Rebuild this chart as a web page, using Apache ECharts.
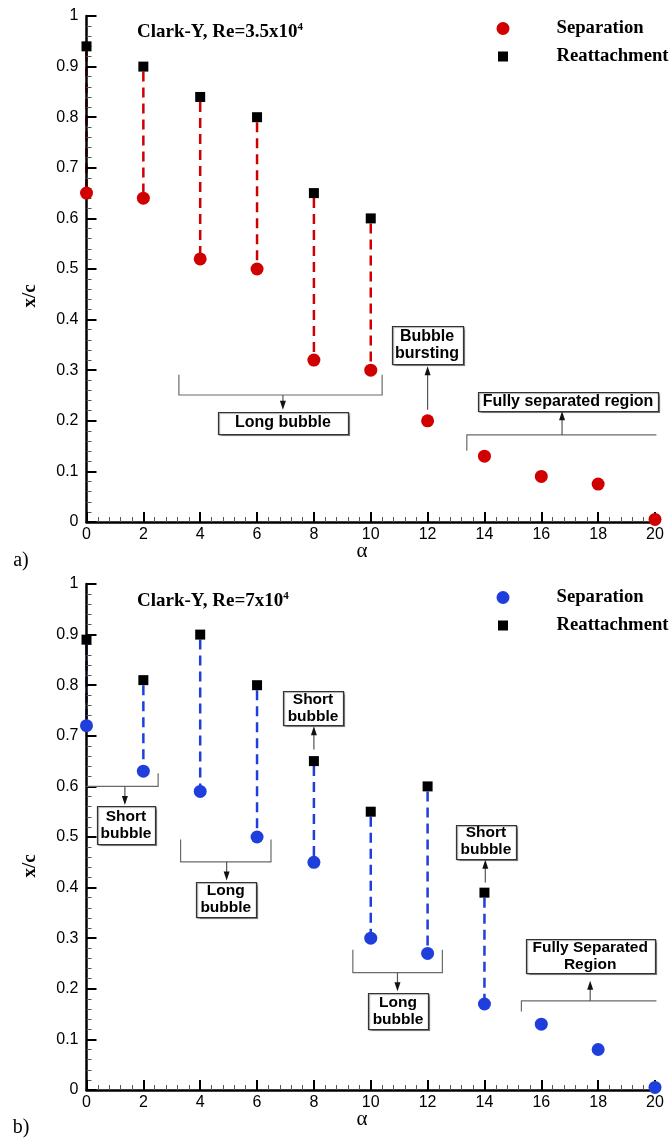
<!DOCTYPE html>
<html>
<head>
<meta charset="utf-8">
<script src="https://cdn.jsdelivr.net/npm/echarts/dist/echarts.min.js"></script>
<style>
  html, body { margin: 0; padding: 0; background: #fff; }
  #chart { width: 671px; height: 1140px; }
</style>
</head>
<body>
<div id="chart"></div>
<script>
// Angle of attack (deg) and chordwise positions x/c of separation and reattachment
const alpha = [0, 2, 4, 6, 8, 10, 12, 14, 16, 18, 20];

// Re = 3.5x10^4
const sepA  = [0.65, 0.64, 0.52, 0.50, 0.32, 0.30, 0.20, 0.13, 0.09, 0.075, 0.005];
const reatA = [0.94, 0.90, 0.84, 0.80, 0.65, 0.60];          // alpha 0..10

// Re = 7x10^4
const sepB  = [0.72, 0.63, 0.59, 0.50, 0.45, 0.30, 0.27, 0.17, 0.13, 0.08, 0.005];
const reatB = [0.89, 0.81, 0.90, 0.80, 0.65, 0.55, 0.60, 0.39]; // alpha 0..14

const xTicks = ['0', '2', '4', '6', '8', '10', '12', '14', '16', '18', '20'];
const yTicks = ['0', '0.1', '0.2', '0.3', '0.4', '0.5', '0.6', '0.7', '0.8', '0.9', '1'];

const RED = '#d00000';
const BLUE = '#1f3fdc';
const SERIF = '"Liberation Serif", "Times New Roman", serif';
const SANS = '"Liberation Sans", Arial, sans-serif';

const chart = echarts.init(document.getElementById('chart'), null, { renderer: 'canvas' });

function pts(xs, ys) { return ys.map((y, i) => [xs[i], y]); }
function spans(xs, lo, hi) { return hi.map((h, i) => [xs[i], lo[i], h]); }

function makeXAxis(gi) {
  return {
    type: 'value', gridIndex: gi, min: 0, max: 20, interval: 2, z: 3,
    axisLine: { show: true, onZero: false, lineStyle: { color: '#000', width: 2.5 } },
    axisTick: { show: true, inside: true, length: 10, lineStyle: { color: '#000', width: 2 } },
    minorTick: { show: true, splitNumber: 5, length: 5, lineStyle: { color: '#555', width: 1 } },
    splitLine: { show: false },
    axisLabel: {
      margin: 5, color: '#000', fontFamily: SANS, fontSize: 16,
      showMinLabel: true, showMaxLabel: true, hideOverlap: false,
      formatter: v => xTicks[Math.round(v / 2)]
    }
  };
}
function makeYAxis(gi) {
  return {
    type: 'value', gridIndex: gi, min: 0, max: 1, interval: 0.1, z: 3,
    axisLine: { show: true, onZero: false, lineStyle: { color: '#000', width: 2.5 } },
    axisTick: { show: true, inside: true, length: 10, lineStyle: { color: '#000', width: 2 } },
    minorTick: { show: true, splitNumber: 5, length: 5, lineStyle: { color: '#555', width: 1 } },
    splitLine: { show: false },
    axisLabel: {
      margin: 8, color: '#000', fontFamily: SANS, fontSize: 16,
      showMinLabel: true, showMaxLabel: true, hideOverlap: false,
      formatter: v => yTicks[Math.round(v * 10)]
    }
  };
}

function connector(gi, xs, lo, hi, color) {
  return {
    type: 'custom', xAxisIndex: gi, yAxisIndex: gi, z: 2, silent: true,
    data: spans(xs, lo, hi),
    encode: { x: 0, y: [1, 2] },
    renderItem: function (params, api) {
      const a = api.coord([api.value(0), api.value(2)]);
      const b = api.coord([api.value(0), api.value(1)]);
      return {
        type: 'line',
        shape: { x1: a[0], y1: a[1] + 5, x2: b[0], y2: b[1] },
        style: { stroke: color, lineWidth: 2.5, lineDash: [10, 6] }
      };
    }
  };
}
function sepSeries(gi, ys, color) {
  return {
    name: 'Separation', type: 'scatter', xAxisIndex: gi, yAxisIndex: gi, z: 4, clip: false,
    symbol: 'circle', symbolSize: 13, itemStyle: { color: color, opacity: 1 },
    data: pts(alpha, ys)
  };
}
function reatSeries(gi, ys) {
  return {
    name: 'Reattachment', type: 'scatter', xAxisIndex: gi, yAxisIndex: gi, z: 4, clip: false,
    symbol: 'rect', symbolSize: 10, itemStyle: { color: '#000', opacity: 1 },
    data: pts(alpha, ys)
  };
}
function makeLegend(top, color) {
  return {
    orient: 'vertical', left: 490, top: top, itemWidth: 13, itemHeight: 13, itemGap: 9,
    selectedMode: false,
    textStyle: { fontFamily: SERIF, fontWeight: 'bold', fontSize: 18.7, color: '#000', lineHeight: 18, padding: [0, 0, 0, 42] },
    data: [
      { name: 'Separation', icon: 'circle', itemStyle: { color: color } },
      { name: 'Reattachment', icon: 'rect', itemStyle: { color: '#000', borderColor: '#fff', borderWidth: 3 } }
    ]
  };
}
function makeTitle(top, base) {
  return {
    left: 132, top: top,
    text: '{t|' + base + '}{s|4}',
    textStyle: {
      rich: {
        t: { fontFamily: SERIF, fontWeight: 'bold', fontSize: 19, color: '#000', lineHeight: 21 },
        s: { fontFamily: SERIF, fontWeight: 'bold', fontSize: 11, color: '#000', lineHeight: 21, verticalAlign: 'top' }
      }
    }
  };
}

chart.setOption({
  animation: false,
  backgroundColor: '#fff',
  title: [makeTitle(16.5, 'Clark-Y, Re=3.5x10'), makeTitle(586, 'Clark-Y, Re=7x10')],
  legend: [makeLegend(14, RED), makeLegend(583, BLUE)],
  grid: [
    { left: 86.5, top: 16, width: 568.5, height: 506, containLabel: false, outerBoundsMode: 'none' },
    { left: 86.5, top: 584, width: 568.5, height: 506, containLabel: false, outerBoundsMode: 'none' }
  ],
  xAxis: [makeXAxis(0), makeXAxis(1)],
  yAxis: [makeYAxis(0), makeYAxis(1)],
  series: [
    connector(0, alpha, sepA.slice(0, reatA.length), reatA, RED),
    sepSeries(0, sepA, RED),
    reatSeries(0, reatA),
    connector(1, alpha, sepB.slice(0, reatB.length), reatB, BLUE),
    sepSeries(1, sepB, BLUE),
    reatSeries(1, reatB)
  ]
});

// Region annotations, positioned in (alpha, x/c) units of each panel
const notes = [
  {
    grid: 0, font: 16,
    brackets: [
      [[3.25, 0.291], [3.25, 0.251], [10.40, 0.251], [10.40, 0.291]],
      [[13.38, 0.141], [13.38, 0.172], [20.05, 0.172]]
    ],
    arrows: [
      [[6.91, 0.251], [6.91, 0.222]],
      [[12.0, 0.222], [12.0, 0.308]],
      [[16.73, 0.172], [16.73, 0.219]]
    ],
    boxes: [
      { at: [6.91, 0.196], w: 130, h: 22, text: 'Long bubble' },
      { at: [11.98, 0.350], w: 71, h: 38, text: 'Bubble\nbursting' },
      { at: [16.94, 0.238], w: 180, h: 19, text: 'Fully separated region' }
    ]
  },
  {
    grid: 1, font: 15.5,
    brackets: [
      [[0, 0.600], [2.52, 0.600], [2.52, 0.626]],
      [[3.31, 0.495], [3.31, 0.451], [6.49, 0.451], [6.49, 0.495]],
      [[9.37, 0.277], [9.37, 0.232], [12.52, 0.232], [12.52, 0.277]],
      [[15.30, 0.155], [15.30, 0.176], [20.05, 0.176]]
    ],
    arrows: [
      [[1.35, 0.600], [1.35, 0.563]],
      [[8.0, 0.673], [8.0, 0.719]],
      [[4.93, 0.451], [4.93, 0.414]],
      [[10.94, 0.232], [10.94, 0.195]],
      [[14.03, 0.410], [14.03, 0.455]],
      [[17.72, 0.176], [17.72, 0.216]]
    ],
    boxes: [
      { at: [1.39, 0.523], w: 58, h: 38, text: 'Short\nbubble' },
      { at: [7.97, 0.754], w: 60, h: 34, text: 'Short\nbubble' },
      { at: [4.90, 0.377], w: 60, h: 35, text: 'Long\nbubble' },
      { at: [10.96, 0.156], w: 60, h: 36, text: 'Long\nbubble' },
      { at: [14.05, 0.491], w: 60, h: 34, text: 'Short\nbubble' },
      { at: [17.72, 0.265], w: 129, h: 34, text: 'Fully Separated\nRegion' }
    ]
  }
];

function toPx(gi, p) { return chart.convertToPixel({ gridIndex: gi }, p); }

const graphics = [];
notes.forEach(n => {
  n.brackets.forEach(b => {
    graphics.push({
      type: 'polyline', z: 5, silent: true,
      shape: { points: b.map(p => toPx(n.grid, p)) },
      style: { stroke: '#6a6a6a', lineWidth: 1.2, fill: null }
    });
  });
  n.arrows.forEach(a => {
    const s = toPx(n.grid, a[0]);
    const e = toPx(n.grid, a[1]);
    const dir = e[1] < s[1] ? -1 : 1;
    graphics.push({
      type: 'line', z: 5, silent: true,
      shape: { x1: s[0], y1: s[1], x2: e[0], y2: e[1] - dir * 6 },
      style: { stroke: '#555', lineWidth: 1.2 }
    });
    graphics.push({
      type: 'polygon', z: 5, silent: true,
      shape: { points: [[e[0], e[1]], [e[0] - 3, e[1] - dir * 9], [e[0] + 3, e[1] - dir * 9]] },
      style: { fill: '#111' }
    });
  });
  n.boxes.forEach(b => {
    const c = toPx(n.grid, b.at);
    graphics.push({
      type: 'rect', z: 6, silent: true,
      shape: { x: Math.round(c[0] - b.w / 2) + 0.5, y: Math.round(c[1] - b.h / 2) + 0.5, width: b.w, height: b.h },
      style: { fill: '#fff', stroke: '#333', lineWidth: 1.2, shadowColor: 'rgba(0,0,0,0.35)', shadowOffsetX: 1, shadowOffsetY: 1, shadowBlur: 1 }
    });
    graphics.push({
      type: 'text', z: 7, silent: true,
      x: c[0], y: c[1],
      style: {
        text: b.text, fill: '#000', align: 'center', verticalAlign: 'middle',
        font: 'bold ' + n.font + 'px ' + SANS, lineHeight: 17
      }
    });
  });
});

// Panel tags and axis titles
const tag = (t, x, y) => ({ type: 'text', x: x, y: y, silent: true,
  style: { text: t, fill: '#000', align: 'center', verticalAlign: 'middle', font: '20px ' + SERIF } });
graphics.push(tag('a)', 21, 561));
graphics.push(tag('b)', 21, 1128));
[296, 866].forEach(cy => {
  graphics.push({
    type: 'text', x: 30, y: cy, rotation: Math.PI / 2, silent: true,
    style: { text: 'x/c', fill: '#000', align: 'center', verticalAlign: 'middle', font: 'bold 19px ' + SERIF }
  });
});
[551, 1119].forEach(cy => {
  graphics.push({
    type: 'text', x: 362, y: cy, silent: true,
    style: { text: 'α', fill: '#000', align: 'center', verticalAlign: 'middle', font: '21px ' + SERIF }
  });
});

chart.setOption({ graphic: graphics });
</script>
</body>
</html>
